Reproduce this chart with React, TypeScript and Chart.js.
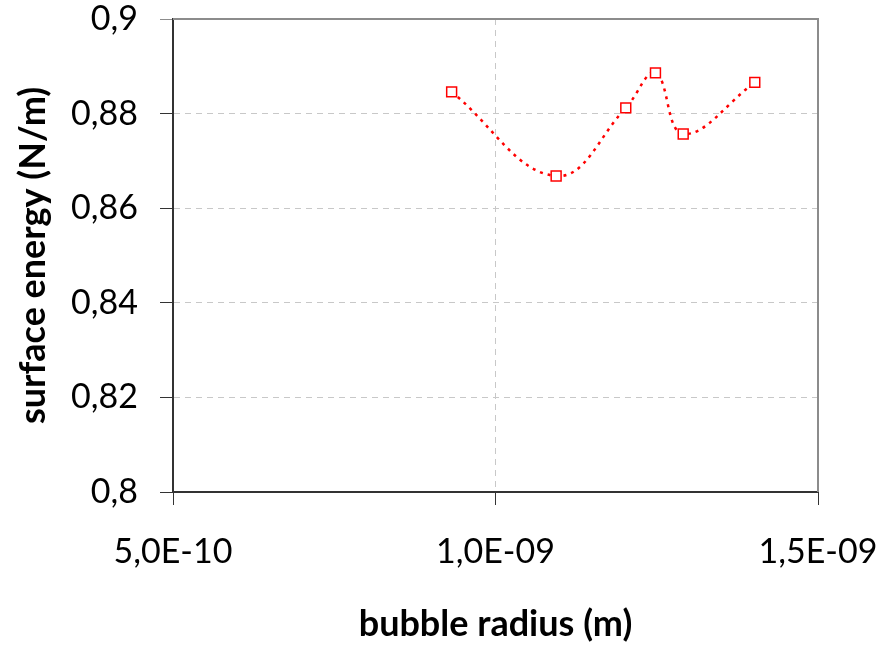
import React, { useEffect, useRef } from 'react';
import { Chart, registerables } from 'chart.js';

Chart.register(...registerables);

const bubbleRadius = [9.32e-10, 1.094e-9, 1.202e-9, 1.248e-9, 1.291e-9, 1.402e-9];
const surfaceEnergy = [0.8846, 0.8668, 0.8812, 0.8886, 0.8757, 0.8866];
const xTickValues = [5e-10, 1e-9, 1.5e-9];
const xTickLabels = ['5,0E-10', '1,0E-09', '1,5E-09'];
const yTickValues = [0.8, 0.82, 0.84, 0.86, 0.88, 0.9];
const yTickLabels = ['0,8', '0,82', '0,84', '0,86', '0,88', '0,9'];

const W = 881;
const H = 647;

const near = (a: number, b: number, eps: number) => Math.abs(a - b) < eps;

const framePlugin = {
  id: 'frame',
  beforeDatasetsDraw(chart: any) {
    const { ctx, chartArea } = chart;
    ctx.save();
    ctx.strokeStyle = '#8c8c8c';
    ctx.lineWidth = 2;
    ctx.beginPath();
    ctx.moveTo(chartArea.left, chartArea.top);
    ctx.lineTo(chartArea.right, chartArea.top);
    ctx.lineTo(chartArea.right, chartArea.bottom);
    ctx.stroke();
    ctx.restore();
  },
};

export default function App() {
  const ref = useRef<HTMLCanvasElement | null>(null);

  useEffect(() => {
    if (!ref.current) return;
    const tickFont = { family: 'Lato', size: 34 };
    const titleFont = { family: 'Lato', size: 36, weight: 'bold' as const };
    const chart = new Chart(ref.current, {
      type: 'scatter',
      data: {
        datasets: [
          {
            data: bubbleRadius.map((x, i) => ({ x, y: surfaceEnergy[i] })),
            showLine: true,
            borderColor: '#ff0000',
            borderWidth: 2.5,
            borderDash: [3, 5],
            tension: 0.4,
            pointStyle: 'rect',
            pointRadius: 7,
            pointBorderWidth: 1.5,
            pointBorderColor: '#ff0000',
            pointBackgroundColor: '#ffffff',
          },
        ],
      },
      options: {
        responsive: false,
        animation: false,
        devicePixelRatio: 1,
        layout: { padding: { top: 19, right: 63, left: 0, bottom: 0 } },
        plugins: { legend: { display: false }, tooltip: { enabled: false } },
        scales: {
          x: {
            type: 'linear',
            min: xTickValues[0],
            max: xTickValues[xTickValues.length - 1],
            afterBuildTicks: (s: any) => {
              s.ticks = xTickValues.map((v) => ({ value: v }));
            },
            afterFit: (s: any) => {
              s.height = 155;
              s.paddingLeft = 0;
              s.paddingRight = 0;
            },
            ticks: {
              autoSkip: false,
              maxRotation: 0,
              minRotation: 0,
              padding: 27,
              color: '#000',
              font: tickFont,
              callback: (_v: any, i: number) => xTickLabels[i],
            },
            grid: {
              color: (c: any) =>
                c.tick && near(c.tick.value, 1e-9, 1e-12) ? '#c8c8c8' : 'rgba(0,0,0,0)',
              tickColor: '#333',
              tickLength: 13,
              lineWidth: 1,
            },
            border: { color: '#333', width: 2, dash: [6, 5] },
            title: {
              display: true,
              text: 'bubble radius (m)',
              color: '#000',
              font: titleFont,
              padding: { top: 0, bottom: 1 },
            },
          },
          y: {
            type: 'linear',
            min: yTickValues[0],
            max: yTickValues[yTickValues.length - 1],
            afterBuildTicks: (s: any) => {
              s.ticks = yTickValues.map((v) => ({ value: v }));
            },
            afterFit: (s: any) => {
              s.width = 173;
              s.paddingTop = 0;
              s.paddingBottom = 0;
            },
            ticks: {
              autoSkip: false,
              padding: 22,
              color: '#000',
              font: tickFont,
              callback: (_v: any, i: number) => yTickLabels[i],
            },
            grid: {
              color: (c: any) => {
                if (!c.tick) return 'rgba(0,0,0,0)';
                const v = c.tick.value;
                return v > 0.81 && v < 0.89 ? '#c8c8c8' : 'rgba(0,0,0,0)';
              },
              tickColor: (c: any) =>
                c.tick && near(c.tick.value, 0.9, 1e-6) ? '#8c8c8c' : '#333',
              tickLength: 13,
              lineWidth: 1,
            },
            border: { color: '#333', width: 2, dash: [6, 5] },
            title: {
              display: true,
              text: 'surface energy (N/m)',
              color: '#000',
              font: titleFont,
              padding: { top: 12, bottom: 0 },
            },
          },
        },
      },
      plugins: [framePlugin],
    });
    return () => chart.destroy();
  }, []);

  return (
    <div style={{ position: 'fixed', left: 0, top: 0, width: W, height: H, background: '#fff' }}>
      <canvas ref={ref} width={W} height={H} style={{ display: 'block' }} />
    </div>
  );
}
